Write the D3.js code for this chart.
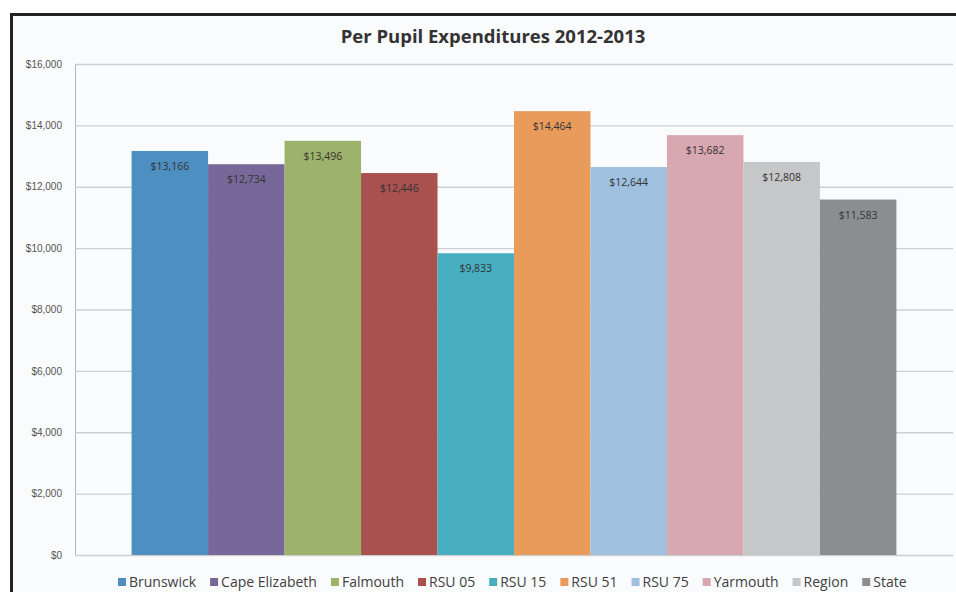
<!DOCTYPE html>
<html>
<head>
<meta charset="utf-8">
<script src="https://cdn.jsdelivr.net/npm/d3@7"></script>
<style>
  body { margin: 0; background: #ffffff; }
  svg { display: block; font-family: "Open Sans", "Noto Sans", sans-serif; }
</style>
</head>
<body>
<svg width="956" height="592"></svg>
<script>
const svg = d3.select("svg");

const width = 956;
const height = 592;

const margin = { top: 64, right: 3, bottom: 37, left: 75 };

// data
const districts = ["Brunswick", "Cape Elizabeth", "Falmouth", "RSU 05", "RSU 15",
                   "RSU 51", "RSU 75", "Yarmouth", "Region", "State"];
const expenditures = [13166, 12734, 13496, 12446, 9833, 14464, 12644, 13682, 12808, 11583];
const colors = ["#4d8fc0", "#76699a", "#9db26a", "#a8514e", "#48afc0",
                "#e99b5c", "#9fc0df", "#d8a8b0", "#c6c7c9", "#8b8e91"];
const yTicks = [0, 2000, 4000, 6000, 8000, 10000, 12000, 14000, 16000];

const data = districts.map((d, i) => ({ name: d, value: expenditures[i], color: colors[i] }));

// chart frame
svg.append("rect")
    .attr("x", 11.5).attr("y", 14.5)
    .attr("width", width + 10).attr("height", height)
    .attr("fill", "#fafbfd")
    .attr("stroke", "#222")
    .attr("stroke-width", 3);

svg.append("text")
    .attr("x", 493)
    .attr("y", 43)
    .attr("text-anchor", "middle")
    .style("font-size", "18.5px")
    .style("font-weight", "bold")
    .attr("fill", "#333")
    .text("Per Pupil Expenditures 2012-2013");

const yScale = d3.scaleLinear()
    .domain([0, 16000])
    .range([height - margin.bottom, margin.top]);

// one category group, bars clustered with no gaps
const groupScale = d3.scaleBand()
    .domain(["2012-2013"])
    .range([margin.left, width - margin.right])
    .paddingOuter(0.074);

const xScale = d3.scaleBand()
    .domain(districts)
    .range([groupScale("2012-2013"), groupScale("2012-2013") + groupScale.bandwidth()]);

// gridlines + labels
const yAxis = svg.append("g")
    .attr("transform", `translate(${margin.left},0)`)
    .call(d3.axisLeft(yScale)
        .tickValues(yTicks)
        .tickSize(-(width - margin.left - margin.right))
        .tickPadding(13)
        .tickFormat(d => "$" + d3.format(",")(d)));

yAxis.select(".domain").attr("stroke", "#b5b5b5");
yAxis.selectAll(".tick line").attr("stroke", "#cfcfcf").attr("stroke-width", 1.3);
yAxis.selectAll(".tick text")
    .attr("fill", "#555")
    .style("font-size", "10px");

svg.selectAll(".bar")
    .data(data)
    .enter()
    .append("rect")
    .attr("class", "bar")
    .attr("x", d => xScale(d.name))
    .attr("y", d => yScale(d.value))
    .attr("width", xScale.bandwidth())
    .attr("height", d => yScale(0) - yScale(d.value))
    .attr("fill", d => d.color);

svg.selectAll(".label")
    .data(data)
    .enter()
    .append("text")
    .attr("class", "label")
    .attr("x", d => xScale(d.name) + xScale.bandwidth() / 2)
    .attr("y", d => yScale(d.value) + 19)
    .attr("text-anchor", "middle")
    .style("font-size", "10.5px")
    .attr("fill", "#333")
    .text(d => "$" + d3.format(",")(d.value));

// legend
const legend = svg.append("g")
    .attr("transform", "translate(0,587)");

let lx = 118;
data.forEach(d => {
    const item = legend.append("g").attr("transform", `translate(${lx},0)`);
    item.append("rect")
        .attr("x", 0).attr("y", -9)
        .attr("width", 8).attr("height", 8)
        .attr("fill", d.color);
    const t = item.append("text")
        .attr("x", 11).attr("y", 0)
        .style("font-size", "14px")
        .attr("fill", "#404040")
        .text(d.name);
    lx += 11 + t.node().getComputedTextLength() + 14;
});
</script>
</body>
</html>
